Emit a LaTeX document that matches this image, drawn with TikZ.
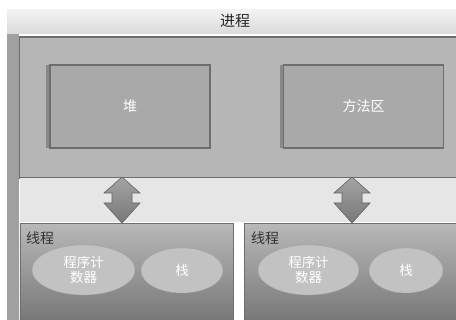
\documentclass[tikz,border=0pt]{standalone}
\usepackage{fontspec}
\newfontfamily\cjk{Noto Sans CJK SC}
\usetikzlibrary{shapes.geometric,shadows,calc}
\definecolor{hdrtop}{HTML}{F2F2F2}
\definecolor{hdrbot}{HTML}{DADADA}
\definecolor{procfill}{HTML}{B6B6B6}
\definecolor{edge}{HTML}{6E6E6E}
\definecolor{boxfill}{HTML}{A9A9A9}
\definecolor{thrtop}{HTML}{B8B8B8}
\definecolor{thrbot}{HTML}{767676}
\definecolor{ellfill}{HTML}{C2C2C2}
\definecolor{band}{HTML}{E6E6E6}
\definecolor{strip}{HTML}{A0A0A0}
\definecolor{arrtop}{HTML}{A4A4A4}
\definecolor{arrbot}{HTML}{787878}
\tikzset{
  memarea/.style={draw=edge, line width=1.2pt, fill=boxfill, minimum width=160pt, minimum height=83pt, inner sep=0pt,
    font=\cjk\fontsize{14}{16}\selectfont, text=white,
    drop shadow={shadow xshift=-4pt, shadow yshift=0pt, fill=black, opacity=0.25}},
  thread/.style={draw=edge, line width=0.8pt, top color=thrtop, bottom color=thrbot, inner sep=0pt},
  ell/.style={ellipse, fill=ellfill, draw=ellfill!85!black, line width=0.3pt, inner sep=0pt,
    font=\cjk\fontsize{13.5}{15.5}\selectfont, text=white, align=center},
  dblarrow/.style={draw=edge!90!black, line width=0.6pt, line join=miter, top color=arrtop, bottom color=arrbot},
  lbl/.style={font=\cjk\fontsize{14}{16}\selectfont, text=black!80, inner sep=0pt}
}
\begin{document}
\begin{tikzpicture}[x=1pt,y=-1pt]
\useasboundingbox (0,0) rectangle (456,320);
\fill[white] (0,0) rectangle (456,320);
% header band
\fill[top color=hdrtop, bottom color=hdrbot] (7,10) rectangle (456,34);
\node[lbl, text=black!85, font=\cjk\fontsize{15}{17}\selectfont] (title) at (235,20.5) {进程};
% left dark strip
\fill[strip] (7,34) rectangle (19,320);
% process area
\node[draw=edge, line width=1.2pt, fill=procfill, minimum width=440pt, minimum height=141pt, inner sep=0pt, anchor=north west] (proc) at (19,36.5) {};
% band between
\fill[band] (19.6,177.6) rectangle (456,222.4);
% memory areas
\node[memarea] (heap) at (130,106.5) {堆};
\node[memarea] (method) at (363.5,106.5) {方法区};
% threads
\node[thread, minimum width=213pt, minimum height=100pt, anchor=north west] (t1) at (19.5,223) {};
\node[thread, minimum width=214pt, minimum height=100pt, anchor=north west] (t2) at (244,223) {};
\node[lbl, anchor=west] (t1l) at (26,238) {线程};
\node[lbl, anchor=west] (t2l) at (251,238) {线程};
% ellipses
\node[ell, minimum width=103pt, minimum height=50pt] (pc1) at (83.5,270) {程序计\\数器};
\node[ell, minimum width=82pt, minimum height=45pt] (st1) at (182,270.5) {栈};
\node[ell, minimum width=101pt, minimum height=50pt] (pc2) at (308.5,270) {程序计\\数器};
\node[ell, minimum width=74pt, minimum height=45pt] (st2) at (406,270.5) {栈};
% double arrows
\coordinate (a1) at (122,200);
\coordinate (a2) at (352,200);
\foreach \c in {a1,a2}{
  \draw[dblarrow] ($(\c)+(0,-23)$) -- ($(\c)+(18,-7)$) -- ($(\c)+(10,-7)$) -- ($(\c)+(10,3)$) -- ($(\c)+(18,3)$)
    -- ($(\c)+(0,23)$) -- ($(\c)+(-18,3)$) -- ($(\c)+(-10,3)$) -- ($(\c)+(-10,-7)$) -- ($(\c)+(-18,-7)$) -- cycle;
}
\end{tikzpicture}
\end{document}
